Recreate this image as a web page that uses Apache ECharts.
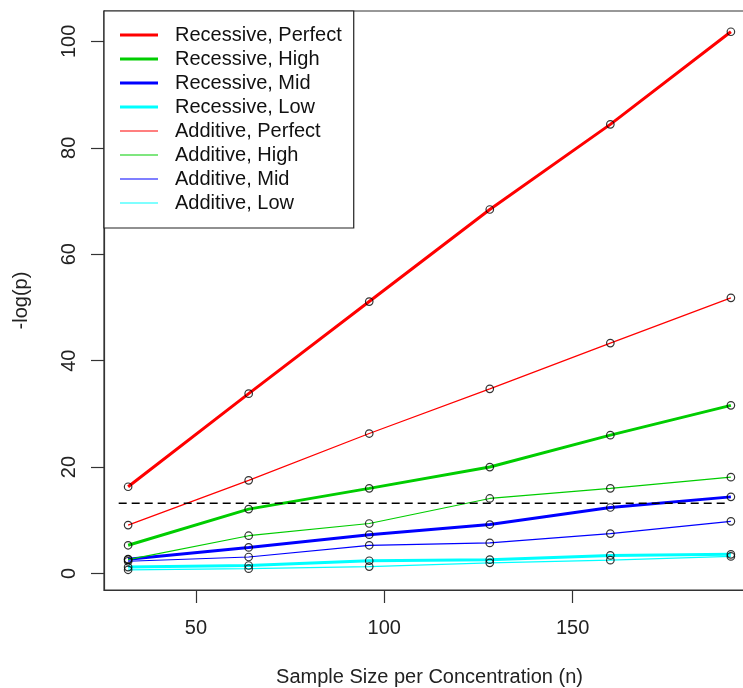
<!DOCTYPE html>
<html>
<head>
<meta charset="utf-8">
<script src="https://cdn.jsdelivr.net/npm/echarts@6/dist/echarts.min.js"></script>
<style>
  html, body { margin: 0; padding: 0; background: #fff; }
  #main { width: 743px; height: 688px; }
</style>
</head>
<body>
<div id="main"></div>
<script>
var sampleSize = [32, 64, 96, 128, 160, 192];

var recPerfect = [16.3, 33.8, 51.1, 68.4, 84.4, 101.8];
var recHigh    = [5.3, 12.1, 16.0, 20.0, 26.0, 31.6];
var recMid     = [2.7, 4.9, 7.3, 9.2, 12.4, 14.4];
var recLow     = [1.2, 1.5, 2.4, 2.6, 3.4, 3.6];
var addPerfect = [9.1, 17.5, 26.3, 34.7, 43.3, 51.8];
var addHigh    = [2.6, 7.1, 9.4, 14.1, 16.0, 18.1];
var addMid     = [2.3, 3.1, 5.3, 5.75, 7.5, 9.8];
var addLow     = [0.7, 0.9, 1.3, 2.0, 2.5, 3.2];

var threshold = 13.2;       // dashed cut-off
var thresholdSpan = [29.5, 191];

var xTicks = [50, 100, 150];
var yTicks = [0, 20, 40, 60, 80, 100];

var lines = [
  { name: 'Recessive, Perfect', data: recPerfect, color: '#ff0000', width: 3 },
  { name: 'Recessive, High',    data: recHigh,    color: '#00cd00', width: 3 },
  { name: 'Recessive, Mid',     data: recMid,     color: '#0000ff', width: 3 },
  { name: 'Recessive, Low',     data: recLow,     color: '#00ffff', width: 3 },
  { name: 'Additive, Perfect',  data: addPerfect, color: '#ff0000', width: 1.2 },
  { name: 'Additive, High',     data: addHigh,    color: '#00cd00', width: 1.2 },
  { name: 'Additive, Mid',      data: addMid,     color: '#0000ff', width: 1.2 },
  { name: 'Additive, Low',      data: addLow,     color: '#00ffff', width: 1.2 }
];

var font = 'Liberation Sans, Arial, sans-serif';
var fs = 20;
var series = [];

lines.forEach(function (l) {
  series.push({
    name: l.name,
    type: 'line',
    data: sampleSize.map(function (x, i) { return [x, l.data[i]]; }),
    symbol: 'none',
    color: l.color,
    lineStyle: { color: l.color, width: l.width },
    z: 2
  });
});

// open circles on top of every point
lines.forEach(function (l) {
  series.push({
    type: 'scatter',
    data: sampleSize.map(function (x, i) { return [x, l.data[i]]; }),
    symbol: 'circle',
    symbolSize: 7.5,
    itemStyle: { color: 'rgba(0,0,0,0)', borderColor: '#000', borderWidth: 1.2 },
    silent: true,
    z: 4
  });
});

series.push({
  type: 'line',
  data: [[thresholdSpan[0], threshold], [thresholdSpan[1], threshold]],
  symbol: 'none',
  lineStyle: { color: '#000', width: 1.5, type: [8, 5] },
  silent: true,
  z: 3
});

var chart = echarts.init(document.getElementById('main'));
chart.setOption({
  animation: false,
  backgroundColor: '#fff',
  grid: {
    left: 104, right: -12, top: 11, bottom: 98,
    outerBoundsMode: 'none',
    containLabel: false,
    show: true, borderColor: '#333', borderWidth: 1.2
  },
  legend: {
    data: lines.map(function (l) {
      return { name: l.name, icon: 'path://M0,0L38,0L38,' + l.width + 'L0,' + l.width + 'Z' };
    }),
    orient: 'vertical',
    left: 104, top: 11,
    itemWidth: 38, itemHeight: 18, itemGap: 4,
    symbolKeepAspect: true,
    padding: [14, 12, 15, 16],
    backgroundColor: '#fff',
    borderColor: '#222', borderWidth: 1.2,
    borderRadius: 0,
    textStyle: { fontFamily: font, fontSize: fs, lineHeight: 18, color: '#111', padding: [0, 0, 0, 12] },
    z: 10
  },
  xAxis: {
    type: 'value',
    min: 25.6, max: 198.4,
    name: 'Sample Size per Concentration (n)',
    nameLocation: 'middle',
    nameGap: 77,
    nameTextStyle: { fontFamily: font, fontSize: fs, color: '#222' },
    axisLine: { show: true, onZero: false, lineStyle: { color: '#333', width: 1.2 } },
    axisTick: { show: true, length: 13, customValues: xTicks, lineStyle: { color: '#333', width: 1.2 } },
    axisLabel: { customValues: xTicks, margin: 28, fontFamily: font, fontSize: fs, color: '#222' },
    splitLine: { show: false }
  },
  yAxis: {
    type: 'value',
    min: -3.1, max: 105.7,
    name: '-log(p)',
    nameLocation: 'middle',
    nameGap: 73,
    nameRotate: 90,
    nameTextStyle: { fontFamily: font, fontSize: fs, color: '#222' },
    axisLine: { show: true, onZero: false, lineStyle: { color: '#333', width: 1.2 } },
    axisTick: { show: true, length: 13, customValues: yTicks, lineStyle: { color: '#333', width: 1.2 } },
    axisLabel: { customValues: yTicks, rotate: 90, margin: 25, fontFamily: font, fontSize: fs, color: '#222' },
    splitLine: { show: false }
  },
  series: series
});
</script>
</body>
</html>
